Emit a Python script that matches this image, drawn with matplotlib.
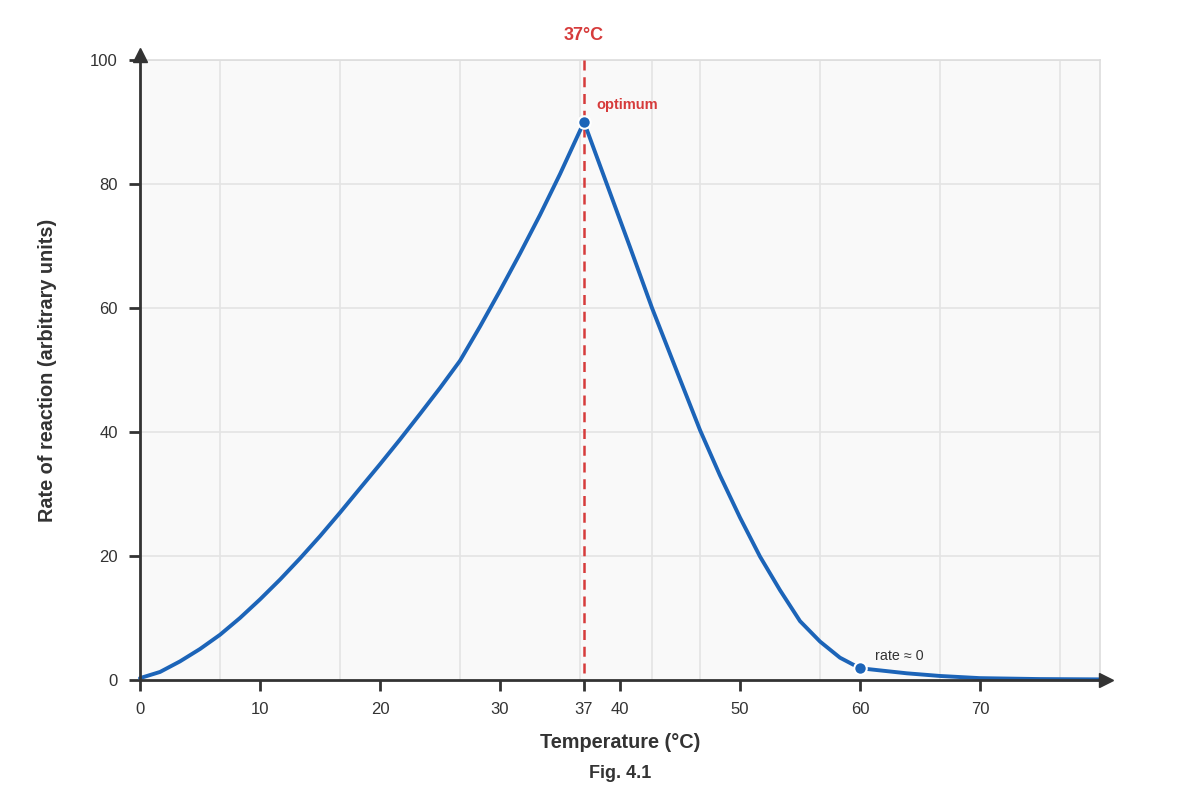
import matplotlib
matplotlib.use("Agg")
import matplotlib.pyplot as plt
from matplotlib.transforms import ScaledTranslation

# ---- data ----
temperature = [0, 1.67, 3.33, 5, 6.67, 8.33, 10, 11.67, 13.33, 15, 16.67, 18.33, 20,
               21.67, 23.33, 25, 26.67, 28.33, 30, 31.67, 33.33, 35, 37,
               38.9, 40.8, 42.67, 45, 46.67, 48.33, 50, 51.67, 53.33, 55,
               56.67, 58.33, 60, 63.9, 66.67, 70, 75, 80]
rate = [0.3, 1.3, 3.0, 5.0, 7.3, 10.0, 13.0, 16.2, 19.6, 23.2, 27.0, 30.9, 34.8,
        38.8, 42.9, 47.1, 51.5, 57.0, 62.8, 68.8, 75.0, 81.6, 90.0,
        80.0, 70.0, 60.0, 48.5, 40.3, 33.0, 26.2, 19.9, 14.5, 9.5,
        6.2, 3.6, 1.9, 1.08, 0.65, 0.3, 0.15, 0.1]

optimum_temp = 37
optimum_rate = 90.0
zero_temp = 60
zero_rate = 1.9

x_ticks = [0, 10, 20, 30, 37, 40, 50, 60, 70]
y_ticks = [0, 20, 40, 60, 80, 100]
x_grid = [6.67, 16.67, 26.67, 36.67, 42.67, 46.67, 56.67, 66.67, 76.67]

BLUE = "#1c64b8"
RED = "#d63b3b"
DARK = "#333333"

plt.rcParams['font.family'] = ['Liberation Sans', 'DejaVu Sans']

fig = plt.figure(figsize=(12, 8), dpi=100)
ax = fig.add_axes([140/1200, 120/800, 960/1200, 620/800])
ax.set_facecolor("#f9f9f9")
ax.set_xlim(0, 80)
ax.set_ylim(0, 100)

# grid
for g in x_grid:
    ax.axvline(g, color="#e4e4e4", lw=1.2, zorder=0)
for g in y_ticks[1:]:
    ax.axhline(g, color="#e4e4e4", lw=1.2, zorder=0)

# spines
for s in ["top", "right"]:
    ax.spines[s].set_color("#dddddd")
    ax.spines[s].set_linewidth(1.2)
for s in ["left", "bottom"]:
    ax.spines[s].set_color(DARK)
    ax.spines[s].set_linewidth(2)
    ax.spines[s].set_zorder(5)

# arrow heads on axes
up = ScaledTranslation(0, 5/100, fig.dpi_scale_trans)
right = ScaledTranslation(6/100, 0, fig.dpi_scale_trans)
ax.plot([0], [1], marker="^", markersize=10, color=DARK, transform=ax.transAxes + up,
        clip_on=False, zorder=6)
ax.plot([1], [0], marker=">", markersize=10, color=DARK, transform=ax.transAxes + right,
        clip_on=False, zorder=6)
ax.plot([1, 1.008], [0, 0], color=DARK, lw=2, transform=ax.transAxes, clip_on=False, zorder=6)

ax.set_xticks(x_ticks)
ax.set_yticks(y_ticks)
ax.tick_params(axis="both", direction="out", length=8, width=2, color=DARK,
               labelcolor=DARK, labelsize=12, pad=8)

# optimum dashed line (dash pattern starting at top)
ax.plot([optimum_temp, optimum_temp], [100, 0], color=RED, lw=1.8,
        ls=(0, (4, 2.7)), zorder=3)

# curve
ax.plot(temperature, rate, color=BLUE, lw=2.8, solid_joinstyle="round",
        solid_capstyle="round", zorder=4, clip_on=False)
ax.plot([optimum_temp, zero_temp], [optimum_rate, zero_rate], "o", color=BLUE,
        markersize=9, markeredgecolor="white", markeredgewidth=1.5, zorder=7)

# annotations
ax.annotate("37°C", xy=(optimum_temp, 100), xytext=(0, 17.5), textcoords="offset points",
            ha="center", va="center", color=RED, fontsize=13, fontweight="bold",
            annotation_clip=False)
ax.annotate("optimum", xy=(optimum_temp, optimum_rate), xytext=(9, 12),
            textcoords="offset points", ha="left", va="center", color=RED,
            fontsize=10.5, fontweight="bold")
ax.annotate("rate ≈ 0", xy=(zero_temp, zero_rate), xytext=(11, 9),
            textcoords="offset points", ha="left", va="center", color=DARK,
            fontsize=10.3)

fig.text(620/1200, 1 - 743/800, "Temperature (°C)", ha="center", va="center",
         fontsize=14.3, fontweight="bold", color=DARK)
fig.text(620/1200, 1 - 774/800, "Fig. 4.1", ha="center", va="center",
         fontsize=13, fontweight="bold", color=DARK)
fig.text(48/1200, 1 - 370/800, "Rate of reaction (arbitrary units)", ha="center",
         va="center", rotation=90, fontsize=14.3, fontweight="bold", color=DARK)

fig.savefig("out.png", dpi=100, facecolor="white")
